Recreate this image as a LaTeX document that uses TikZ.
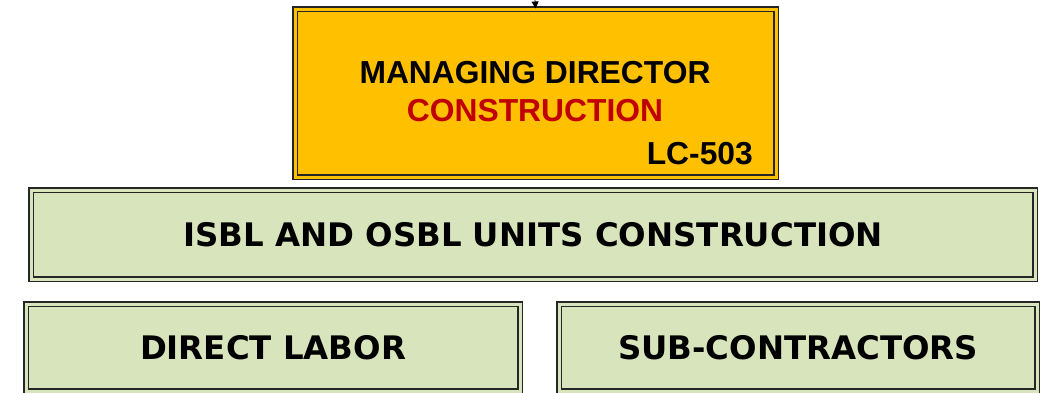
\documentclass[tikz,border=0pt]{standalone}
\usepackage{fontspec}
\setmainfont{Liberation Sans}
\newfontfamily\verd{DejaVu Sans}
\usetikzlibrary{arrows.meta}
\definecolor{gold}{HTML}{FFC000}
\definecolor{sage}{HTML}{D8E4BC}
\definecolor{dred}{HTML}{C00000}
\begin{document}
\begin{tikzpicture}[x=1pt,y=-1pt,
  dbox/.style={draw=black!85,double=#1,double distance=3pt,line width=1.1pt,fill=#1,inner sep=0pt},
  mdtxt/.style={font=\bfseries\fontsize{31.8}{34}\selectfont},
  greentxt/.style={font=\verd\bfseries\fontsize{32.4}{36}\selectfont}]
\useasboundingbox (0,0) rectangle (1049,393);
\node[dbox=gold,minimum width=481,minimum height=168,anchor=north west] (md) at (294.5,8.5) {};
\node[mdtxt] (t1) at (535,73) {MANAGING DIRECTOR};
\node[mdtxt,text=dred] (t2) at (535,111) {CONSTRUCTION};
\node[mdtxt,anchor=east,inner sep=0pt] (t3) at (753,154) {LC-503};
\coordinate (top) at (535,0);
\draw[-{Triangle[length=7pt,width=7pt]},line width=0.8pt] (top) -- (md.north);
\node[dbox=sage,minimum width=1004,minimum height=89,anchor=north west,greentxt] (isbl) at (30.5,189.5) {ISBL AND OSBL UNITS CONSTRUCTION};
\node[dbox=sage,minimum width=494,minimum height=87,anchor=north west,greentxt] (dl) at (25.5,303.5) {DIRECT LABOR};
\node[dbox=sage,minimum width=478,minimum height=87,anchor=north west,greentxt] (sc) at (558.5,303.5) {SUB-CONTRACTORS};
\end{tikzpicture}
\end{document}
